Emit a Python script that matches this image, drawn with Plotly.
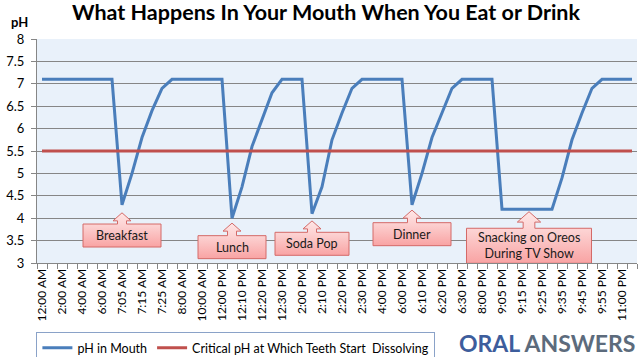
import plotly.graph_objects as go

# ---------------- data ----------------
times = [
    "12:00 AM", "1:00 AM", "2:00 AM", "3:00 AM", "4:00 AM", "5:00 AM", "6:00 AM",
    "7:00 AM", "7:05 AM", "7:10 AM", "7:15 AM", "7:20 AM", "7:25 AM", "7:30 AM",
    "8:00 AM", "9:00 AM", "10:00 AM", "11:00 AM",
    "12:00 PM", "12:05 PM", "12:10 PM", "12:15 PM", "12:20 PM", "12:25 PM", "12:30 PM",
    "1:00 PM", "2:00 PM", "2:05 PM", "2:10 PM", "2:15 PM", "2:20 PM", "2:25 PM", "2:30 PM",
    "3:00 PM", "4:00 PM", "5:00 PM",
    "6:00 PM", "6:05 PM", "6:10 PM", "6:15 PM", "6:20 PM", "6:25 PM", "6:30 PM",
    "7:00 PM", "8:00 PM", "9:00 PM",
    "9:05 PM", "9:10 PM", "9:15 PM", "9:20 PM", "9:25 PM", "9:30 PM", "9:35 PM",
    "9:40 PM", "9:45 PM", "9:50 PM", "9:55 PM", "10:00 PM", "11:00 PM", "12:00 AM",
]

ph_mouth = [
    7.1, 7.1, 7.1, 7.1, 7.1, 7.1, 7.1,
    7.1, 4.3, 5.0, 5.8, 6.4, 6.9, 7.1,
    7.1, 7.1, 7.1, 7.1,
    7.1, 4.0, 4.7, 5.6, 6.2, 6.8, 7.1,
    7.1, 7.1, 4.1, 4.7, 5.75, 6.35, 6.9, 7.1,
    7.1, 7.1, 7.1,
    7.1, 4.3, 5.0, 5.8, 6.35, 6.9, 7.1,
    7.1, 7.1, 7.1,
    4.2, 4.2, 4.2, 4.2, 4.2, 4.2, 4.9,
    5.75, 6.35, 6.9, 7.1, 7.1, 7.1, 7.1,
]

critical_ph = 5.5
critical_series = [critical_ph for _ in times]

tick_labels = times[::2]

# callouts: label, category index of arrow tip (x), tip pH, box-top pH, box w/h (px), arrow scale
callouts = [
    ("Breakfast", 8.0, 4.12, 3.87, 78, 23, 1.0),
    ("Lunch", 19.0, 3.89, 3.61, 68, 23, 1.0),
    ("Soda Pop", 27.0, 3.94, 3.685, 74, 23, 1.0),
    ("Dinner", 37.0, 4.18, 3.90, 78, 23, 1.0),
    ("Snacking on Oreos<br>During TV Show", 48.7, 4.145, 3.775, 125, 35, 1.3),
]

# ---------------- figure ----------------
FONT = "Lato"
BLUE = "#4a7ebb"
RED = "#c0504d"
GRID = "#868686"

x_idx = list(range(len(times)))

fig = go.Figure()

PX_X = 10.0   # pixels per category
PX_Y = 44.8   # pixels per pH unit

for label, cx, tip, top, w, h, s in callouts:
    hw = w / 2 / PX_X
    bottom = top - h / PX_Y
    head_hw = 9.0 * s / PX_X
    stem_hw = 4.5 * s / PX_X
    head_base = tip - 8.0 * s / PX_Y
    xs = [cx - hw, cx - stem_hw, cx - stem_hw, cx - head_hw, cx, cx + head_hw,
          cx + stem_hw, cx + stem_hw, cx + hw, cx + hw, cx - hw, cx - hw]
    ys = [top, top, head_base, head_base, tip, head_base, head_base, top, top,
          bottom, bottom, top]
    fig.add_trace(go.Scatter(
        x=xs, y=ys, mode="lines", fill="toself",
        line=dict(color="#d46a68", width=1),
        fillcolor="#fbbcbc",
        fillgradient=dict(type="vertical",
                          colorscale=[[0, "#f9a3a3"], [0.6, "#fcd0d0"], [1, "#ffe6e6"]]),
        hoverinfo="skip", showlegend=False,
    ))
    fig.add_annotation(
        x=cx, y=(top + bottom) / 2, xref="x", yref="y", text=label,
        showarrow=False, font=dict(family=FONT, size=12.5, color="#1a1a1a"),
        align="center", yanchor="middle",
    )

fig.add_trace(go.Scatter(
    x=x_idx, y=ph_mouth, mode="lines", name="pH in Mouth",
    line=dict(color=BLUE, width=3),
))
fig.add_trace(go.Scatter(
    x=x_idx, y=critical_series, mode="lines",
    name="Critical pH at Which Teeth Start  Dissolving",
    line=dict(color=RED, width=3),
))

fig.update_layout(
    width=644, height=357,
    margin=dict(l=37, r=7, t=39, b=94, autoexpand=False),
    paper_bgcolor="white",
    plot_bgcolor="#e9f1fa",
    font=dict(family=FONT, color="black"),
    title=dict(
        text="<b>What Happens In Your Mouth When You Eat or Drink</b>",
        x=326 / 644, xref="container", xanchor="center",
        y=1 - 12 / 357, yref="container", yanchor="middle",
        font=dict(family=FONT, size=21.5, color="black"),
    ),
    showlegend=True,
    legend=dict(
        orientation="h", x=-0.001, xanchor="left", y=-(332 - 263) / 224, yanchor="top",
        bordercolor="#8aa2c8", borderwidth=1, bgcolor="white",
        font=dict(family=FONT, size=12.5, color="black"),
        itemwidth=30, traceorder="normal",
    ),
)

fig.update_xaxes(
    range=[-0.5, len(times) - 0.5], automargin=False,
    tickmode="array", tickvals=x_idx[::2], ticktext=tick_labels,
    tickangle=-90, tickfont=dict(family=FONT, size=12, color="black"),
    showgrid=False, zeroline=False,
    showline=True, linecolor=GRID, linewidth=1,
    ticks="",
    minor=dict(tickmode="linear", tick0=-0.5, dtick=1, ticks="outside",
               ticklen=5, tickcolor=GRID, showgrid=False),
)
fig.update_yaxes(
    range=[3, 8], dtick=0.5, tick0=3, automargin=False,
    showgrid=True, gridcolor=GRID, gridwidth=1,
    zeroline=False, showline=True, linecolor=GRID, linewidth=1,
    ticks="outside", ticklen=5, tickcolor=GRID,
    tickfont=dict(family=FONT, size=13, color="black"),
    ticklabelstandoff=4,
)

fig.add_annotation(
    xref="paper", yref="paper", x=(19 - 37) / 600, y=1 + (39 - 22) / 224,
    xanchor="center", yanchor="middle", text="<b>pH</b>", showarrow=False,
    font=dict(family=FONT, size=13, color="black"),
)

fig.add_annotation(
    x=(637 - 37) / 600, y=-(343 - 263) / 224, xref="paper", yref="paper",
    xanchor="right", yanchor="middle", showarrow=False,
    text="<b><span style='color:#3d5d9c'>ORAL</span> <span style='color:#5c6b7c'>ANSWERS</span></b>",
    font=dict(family=FONT, size=23),
)

fig.write_html(
    "out.html",
    config={"displayModeBar": False},
    post_script="document.body.style.margin='0';document.body.style.overflow='hidden';",
)
